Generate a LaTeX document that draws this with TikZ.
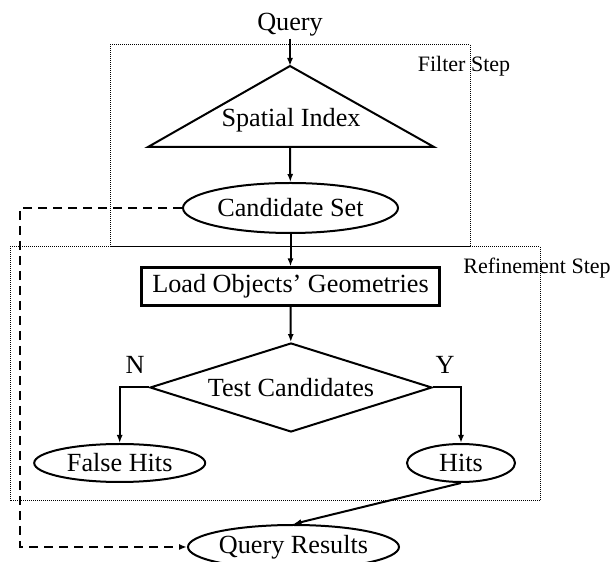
\documentclass[tikz,border=0pt]{standalone}
\usepackage{fontspec}
\setmainfont{Liberation Serif}
\usetikzlibrary{positioning,shapes.geometric,arrows.meta}

\begin{document}
\begin{tikzpicture}[x=1pt,y=1pt,
	txt/.style={font=\fontsize{26.2}{30}\selectfont, inner sep=0pt},
	steplbl/.style={font=\fontsize{22}{26}\selectfont, inner sep=0pt},
	oval/.style={draw, ellipse, line width=2pt, txt},
	flow/.style={line width=2pt, -{Latex[length=8pt,width=6pt]}},
	region/.style={line width=1pt, dash pattern=on 1pt off 1pt},
	skip/.style={line width=2.2pt, dash pattern=on 9pt off 6pt, -{Latex[length=8pt,width=6pt]}}]
	
	\useasboundingbox (0,0) rectangle (611,562);
	
	% filter step
	\node[txt, inner sep=2pt] (qry) at (290,537) {Query};
	\coordinate (idxtop) at (290,496);
	\coordinate (idxbase) at (290,415);
	\draw[line width=2pt] (idxtop) -- (434,415) -- (148,415) -- cycle;
	\node[txt] (idx) at (291,442) {Spatial Index};
	\node[oval, minimum width=215pt, minimum height=50pt] (cand) at (290.5,354) {Candidate Set};
	
	% refinement step
	\node[draw, line width=2.5pt, minimum width=298pt, minimum height=38pt, txt] (load) at (290.5,275.3) {Load Objects’ Geometries};
	\node[draw, diamond, aspect=3.17, minimum width=282pt, minimum height=89pt, line width=2pt, txt] (test) at (291,174.5) {Test Candidates};
	\node[txt] (no) at (135,197) {N};
	\node[txt] (yes) at (445,197) {Y};
	\node[oval, minimum width=171pt, minimum height=38pt] (fhits) at (119.7,99) {False Hits};
	\node[oval, minimum width=108pt, minimum height=38pt] (hits) at (461,99) {Hits};
	\node[oval, minimum width=203pt, minimum height=44pt] (qres) at (293.5,15) {Query Results};
	
	\draw[flow] (qry) -- (idxtop);
	\draw[flow] (idxbase) -- (cand);
	\draw[flow] (cand) -- (load);
	\draw[flow] (load) -- (test);
	\draw[flow] (test.west) -| (fhits);
	\draw[flow] (test.east) -| (hits);
	\draw[flow] (hits.south) -- (qres.north);
	
	% shortcut to the results
	\coordinate (bend) at (20,354);
	\draw[skip] (cand.west) -- (bend) |- (qres.west);
	
	% step boxes
	\node[steplbl] (filterlbl) at (464,496) {Filter Step};
	\node[steplbl] (refinelbl) at (537,294) {Refinement Step};
	\draw[region] (110,315) rectangle (470,517);
	\draw[region] (10,61) rectangle (540,315);
\end{tikzpicture}
\end{document}
